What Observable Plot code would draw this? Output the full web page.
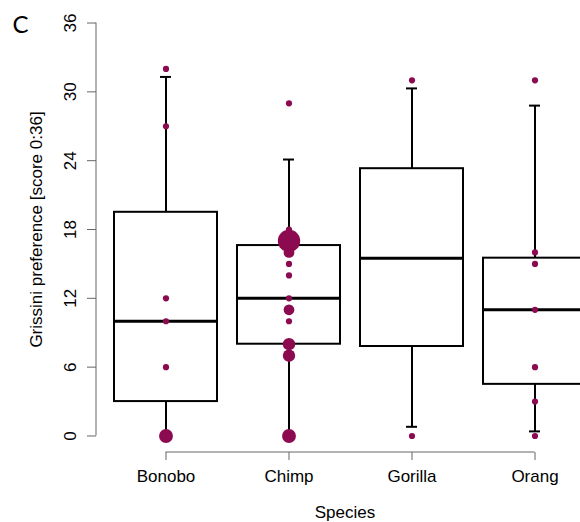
<!DOCTYPE html>
<html>
<head>
<meta charset="utf-8">
<script src="https://cdn.jsdelivr.net/npm/d3@7"></script>
<script src="https://cdn.jsdelivr.net/npm/@observablehq/plot@0.6"></script>
<style>
  html, body { margin: 0; padding: 0; background: #fff; }
  #chart svg { display: block; }
</style>
</head>
<body>
<div id="chart"></div>
<script>
// ---- data ----
const species = ["Bonobo", "Chimp", "Gorilla", "Orang"];
const q1 = [3.0, 8.0, 7.8, 4.5];
const median = [10.0, 12.0, 15.5, 11.0];
const q3 = [19.5, 16.6, 23.3, 15.5];
const whiskerLow = [0, 0, 0.8, 0.4];
const whiskerHigh = [31.3, 24.1, 30.3, 28.8];

const bonoboScores = [0, 6, 10, 12, 27, 32];
const bonoboCounts = [5, 1, 1, 1, 1, 1];
const chimpScores = [0, 7, 8, 10, 11, 12, 14, 15, 16, 17, 18, 29];
const chimpCounts = [5, 4, 4, 1, 3, 1, 1, 1, 3, 13, 1, 1];
const gorillaScores = [0, 31];
const gorillaCounts = [1, 1];
const orangScores = [0, 3, 6, 11, 15, 16, 31];
const orangCounts = [1, 1, 1, 1, 1, 1, 1];

const yTicks = [0, 6, 12, 18, 24, 30, 36];
const panelLabel = "C";
const yTitle = "Grissini preference [score 0:36]";
const xTitle = "Species";

// ---- tables ----
const boxes = species.map((s, i) => ({
  species: s, q1: q1[i], median: median[i], q3: q3[i], lo: whiskerLow[i], hi: whiskerHigh[i]
}));
const scoreSets = [bonoboScores, chimpScores, gorillaScores, orangScores];
const countSets = [bonoboCounts, chimpCounts, gorillaCounts, orangCounts];
const dots = species.flatMap((s, i) =>
  scoreSets[i].map((v, j) => ({species: s, score: v, n: countSets[i][j]}))
);

// R-style 4% range expansion
const yPad = (yTicks.at(-1) - yTicks[0]) * 0.04;
const dotColor = "#8B0A50";
const axisGray = "#666";

// axis lines spanning first..last tick (R style)
function axisLines(index, scales, values, dims) {
  const {x, y} = scales;
  const bw = typeof x.bandwidth === "function" ? x.bandwidth() : (x.bandwidth || 0);
  const g = d3.create("svg:g").attr("stroke", axisGray).attr("stroke-width", 1).attr("fill", "none");
  const yb = dims.height - dims.marginBottom;
  g.append("line")
    .attr("x1", dims.marginLeft).attr("x2", dims.marginLeft)
    .attr("y1", y(yTicks[0])).attr("y2", y(yTicks.at(-1)));
  g.append("line")
    .attr("x1", x(species[0]) + bw / 2).attr("x2", x(species.at(-1)) + bw / 2)
    .attr("y1", yb).attr("y2", yb);
  return g.node();
}

const chart = Plot.plot({
  width: 580,
  height: 522,
  marginLeft: 96,
  marginRight: -25,
  marginTop: 6,
  marginBottom: 70,
  style: {fontFamily: "'Liberation Sans', Arial, sans-serif", fontSize: "17px", color: "black", background: "white"},
  x: {type: "band", domain: species, paddingInner: 0.1626, paddingOuter: 0.1504, label: null},
  y: {domain: [yTicks[0] - yPad, yTicks.at(-1) + yPad], label: null},
  r: {type: "sqrt", domain: [0, 1], range: [0, 3.1], clamp: false},
  marks: [
    axisLines,
    Plot.axisY({ticks: yTicks, tickSize: 9, tickFormat: () => "", stroke: axisGray, label: null}),
    Plot.text(yTicks, {y: d => d, text: d => String(d), frameAnchor: "left", dx: -26, rotate: -90,
      textAnchor: "middle", lineAnchor: "middle", fontSize: 17}),
    Plot.axisX({tickSize: 8, tickPadding: 9, stroke: axisGray, fill: "black", fontSize: 17, label: null}),
    Plot.text([yTitle], {frameAnchor: "left", dx: -60, rotate: -90, fontSize: 17,
      textAnchor: "middle", lineAnchor: "middle"}),
    Plot.text([xTitle], {frameAnchor: "bottom", dx: -6, dy: 60, fontSize: 17,
      textAnchor: "middle", lineAnchor: "middle"}),
    Plot.text([panelLabel], {frameAnchor: "top-left", dx: -84, dy: 9, fontSize: 24,
      fontFamily: "Lato, 'Open Sans', sans-serif", textAnchor: "start", lineAnchor: "top"}),
    // whiskers
    Plot.ruleX(boxes, {x: "species", y1: "q3", y2: "hi", stroke: "black", strokeWidth: 2}),
    Plot.ruleX(boxes, {x: "species", y1: "lo", y2: "q1", stroke: "black", strokeWidth: 2}),
    Plot.tickY(boxes, {x: "species", y: "hi", insetLeft: 46, insetRight: 46, stroke: "black", strokeWidth: 2}),
    Plot.tickY(boxes, {x: "species", y: "lo", insetLeft: 46, insetRight: 46, stroke: "black", strokeWidth: 2}),
    // boxes
    Plot.barY(boxes, {x: "species", y1: "q1", y2: "q3", fill: "white", stroke: "black", strokeWidth: 2}),
    Plot.tickY(boxes, {x: "species", y: "median", stroke: "black", strokeWidth: 3}),
    // data points
    Plot.dot(dots, {x: "species", y: "score", r: "n", fill: dotColor, stroke: null})
  ]
});
document.getElementById("chart").appendChild(chart);
</script>
</body>
</html>
